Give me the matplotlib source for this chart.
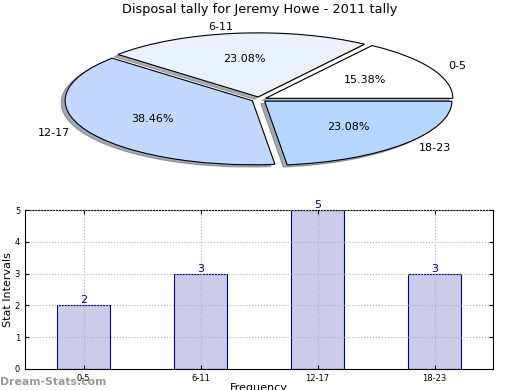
import matplotlib.pyplot as plt

# Datos
categories = ['0-5', '6-11', '12-17', '18-23']
counts = [2, 3, 5, 3]
pie_colors = ['#ffffff', '#eaf1ff', '#c4d7ff', '#b5d6ff']

fig = plt.figure(figsize=(5.2, 3.9), dpi=100)

# Grafico de torta (elipse aplastada)
ax_pie = fig.add_axes([53/520, 220/390, 412/520, 141/390])
wedges, texts, autotexts = ax_pie.pie(
    counts, labels=categories, colors=pie_colors, explode=[0.04] * 4,
    autopct='%.2f%%', shadow={'ox': -0.015, 'oy': -0.025, 'shade': 0.6},
    startangle=0,
    wedgeprops={'edgecolor': 'black', 'linewidth': 0.8},
    textprops={'fontsize': 8})
ax_pie.set_aspect('auto')
ax_pie.set_xlim(-1.1, 1.1)
ax_pie.set_ylim(-1.1, 1.1)
ax_pie.axis('off')
fig.text(0.5, 0.975, 'Disposal tally for Jeremy Howe - 2011 tally',
         ha='center', va='center', fontsize=9.3)

# Grafico de barras
ax = fig.add_axes([25/520, 21/390, 468/520, 159/390])
x = range(len(categories))
ax.bar(x, counts, width=0.45, color='#ccccea', edgecolor='navy', linewidth=0.8, zorder=2)
for xi, c in zip(x, counts):
    ax.text(xi, c, str(c), ha='center', va='bottom', color='navy', fontsize=8)
ax.set_xlim(-0.5, 3.5)
ax.set_ylim(0, 5)
ax.set_xticks(list(x))
ax.set_xticklabels(categories)
ax.set_yticks(range(6))
ax.tick_params(labelsize=6, direction='in', top=True, right=True, length=3)
ax.grid(True, linestyle=':', color='#b0b0b0', linewidth=0.8, zorder=3)
ax.set_axisbelow(False)
ax.set_ylabel('Stat Intervals', fontsize=8, labelpad=1)
ax.set_xlabel('Frequency', fontsize=8, labelpad=0)

fig.text(0.0, 0.008, 'Dream-Stats.com', color='#999999', fontsize=7.8,
         fontweight='bold', ha='left', va='bottom')

plt.savefig('out.png', dpi=100)
plt.close()
